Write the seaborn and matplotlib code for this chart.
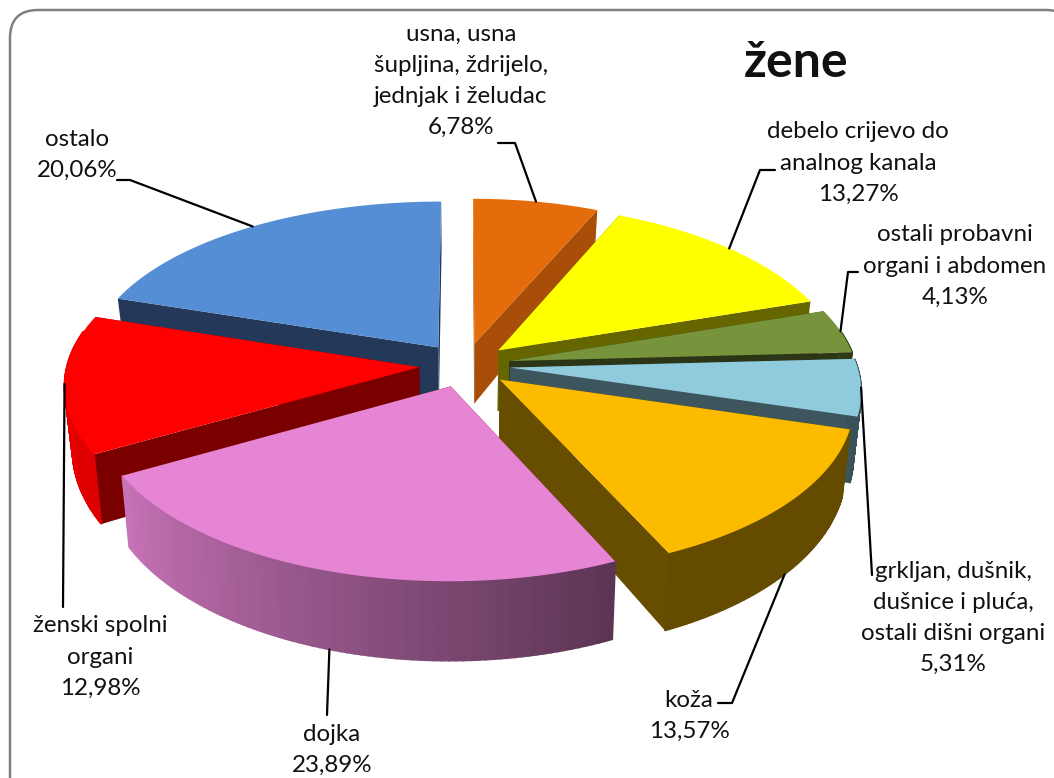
import numpy as np
import seaborn as sns
import matplotlib.pyplot as plt
from matplotlib.patches import FancyBboxPatch

# podaci
names = ['usna, usna\nšupljina, ždrijelo,\njednjak i želudac', 'debelo crijevo do\nanalnog kanala',
         'ostali probavni\norgani i abdomen', 'grkljan, dušnik,\ndušnice i pluća,\nostali dišni organi',
         'koža', 'dojka', 'ženski spolni\norgani', 'ostalo']
values = [6.78, 13.27, 4.13, 5.31, 13.57, 23.89, 12.98, 20.06]
top_colors = ['#E46C0A', '#FFFF00', '#77933C', '#8FCBDC', '#FDBB00', '#E685D4', '#FF0000', '#558ED5']
side_colors = ['#A84E08', '#666600', '#2C3616', '#3D555C', '#664D00', '#7A0000', '#7A0000', '#24395A']
draw_order = [7, 0, 1, 2, 3, 6, 4, 5]

# polozaj tekstova i linija
label_xy = [(461, 81), (858, 163), (955, 266), (953, 618), (689, 716), (332, 750), (100, 657), (77, 155)]
leader_paths = [[(515, 143), (498, 143)], [(760, 170), (775, 170)], [(848, 272), (858, 272)],
                [(872, 575)], [(732, 703), (718, 703)], [(327, 715)], [(63, 607)], [(130, 180), (117, 180)]]
leader_on_wall = [False, False, False, False, True, True, False, False]

sns.set_theme(style='white')
plt.rcParams['font.family'] = ['Lato', 'DejaVu Sans']

fig = plt.figure(figsize=(10.54, 7.78), dpi=100)
ax = fig.add_axes([0, 0, 1, 1])
ax.set_xlim(0, 1054)
ax.set_ylim(778, 0)
ax.set_axis_off()

CX, CY = 465, 365
EXPLODE = 0.13


def project(x, y, wall=0.0):
    # rucna perspektiva: straznja strana je manja od prednje, lijevo malo sire
    left = np.where(np.asarray(x) < 0, 1 + 0.03 * np.clip(np.asarray(y) + 0.5, 0, None), 1.0)
    sx = CX + x * 347 * (1 - 0.13 * y) * (1 - 0.02 * wall) * left
    sy = CY - 170 * y + 20 * y ** 2 + wall * 62 * (1 - 0.25 * y)
    return sx, sy


def pie_point(r, deg, mid):
    a, m = np.radians(deg), np.radians(mid)
    return r * np.sin(a) + EXPLODE * np.sin(m), r * np.cos(a) + EXPLODE * np.cos(m)


edges = np.concatenate([[0], np.cumsum(values)]) / sum(values) * 360
mids = (edges[:-1] + edges[1:]) / 2

for z, i in enumerate(draw_order):
    start, end, mid = edges[i], edges[i + 1], mids[i]
    arc = np.linspace(start, end, 80)
    ax_, ay_ = pie_point(0, 0, mid)
    ox, oy = pie_point(1, arc, mid)
    base = 10 + z * 5

    # radijalni zidovi
    for deg in (start, end):
        ex, ey = pie_point(1, deg, mid)
        xs, ys = project(np.array([ax_, ex, ex, ax_]), np.array([ay_, ey, ey, ay_]), np.array([0, 0, 1, 1]))
        ax.fill(xs, ys, color=side_colors[i], lw=0, zorder=base)

    # vanjski zid, sjena ovisi o kutu
    shades = sns.blend_palette(['black', top_colors[i]], 101)
    for k in range(len(arc) - 1):
        if (oy[k] + oy[k + 1]) / 2 > 0.2:
            continue
        light = np.interp((arc[k] + arc[k + 1]) / 2, [155, 241, 287], [0.4, 0.87, 0.95])
        px = np.array([ox[k], ox[k + 1], ox[k + 1], ox[k]])
        py = np.array([oy[k], oy[k + 1], oy[k + 1], oy[k]])
        xs, ys = project(px, py, np.array([0, 0, 1, 1]))
        ax.fill(xs, ys, color=shades[int(light * 100)], lw=1.2, zorder=base + 1)

    # gornja ploha
    xs, ys = project(np.r_[ax_, ox], np.r_[ay_, oy])
    ax.fill(xs, ys, color=top_colors[i], lw=0, zorder=base + 2)

# natpisi i linije
for i, name in enumerate(names):
    px, py = pie_point(1, mids[i], mids[i])
    sx, sy = project(px, py, 1.0 if leader_on_wall[i] else 0.0)
    path = [(sx, sy)] + leader_paths[i]
    ax.plot([p[0] for p in path], [p[1] for p in path], color='black', lw=1.6, zorder=60)
    label = name + '\n' + f'{values[i]:.2f}'.replace('.', ',') + '%'
    ax.text(label_xy[i][0], label_xy[i][1], label, ha='center', va='center', fontsize=17.4,
            linespacing=1.6, color='#111111', zorder=70)

ax.text(796, 62, 'žene', ha='center', va='center', fontsize=36, fontweight='bold', color='#111111')

# okvir
ax.add_patch(FancyBboxPatch((10, 10), 1064, 800, boxstyle='round,pad=0,rounding_size=28', fc='none',
                            ec='#808080', lw=1.8, zorder=5, transform=ax.transData))
fig.savefig('out.png', dpi=100)
